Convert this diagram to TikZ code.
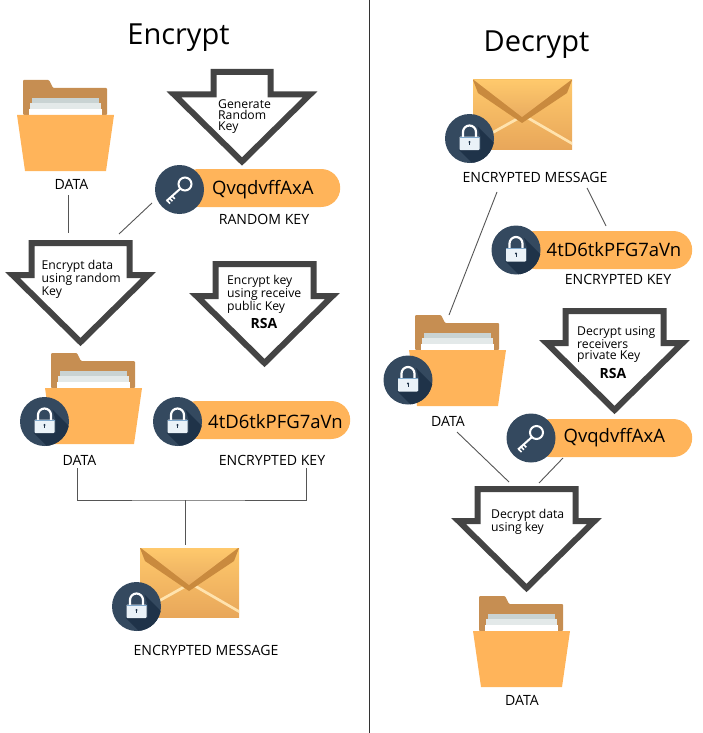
\documentclass[tikz,border=0pt]{standalone}
\usepackage{fontspec}
\setmainfont{Open Sans}
\usepackage{xcolor}
\usetikzlibrary{positioning}
\definecolor{BadgeBlue}{HTML}{34495F}
\definecolor{BadgeShade}{HTML}{1F3349}
\definecolor{FolderFront}{HTML}{FFB45A}
\definecolor{FolderBack}{HTML}{C68E52}
\definecolor{PaperGrey}{HTML}{C9D3D3}
\definecolor{PaperLight}{HTML}{E3E9E9}
\definecolor{ArrowGrey}{HTML}{444444}
\definecolor{LineGrey}{HTML}{555555}
\definecolor{EnvTop}{HTML}{FFC96C}
\definecolor{EnvBottom}{HTML}{E8A75A}
\definecolor{EnvFlap}{HTML}{E9AC60}
\definecolor{EnvLight}{HTML}{FFE3AE}
\definecolor{EnvFold}{HTML}{C98A3E}
\definecolor{LockBody}{HTML}{EAF2F8}
\definecolor{LockBand}{HTML}{7FA8CC}

\tikzset{
  pics/blockarrow/.style args={#1,#2}{code={
    \draw[draw=ArrowGrey, line width=6pt, miter limit=10, fill=white]
      (-#1,3) -- (#1,3) -- (#1,#2) -- (68,#2) -- (0,#2+67) -- (-68,#2) -- (-#1,#2) -- cycle;
  }},
  pics/foldericon/.style={code={
    \fill[FolderBack] (6,0) -- (6,-34) [rounded corners=1pt] -- (6,-35) -- (32,-35) -- (36,-27) -- (90,-27) -- (90,0) -- cycle;
    \fill[PaperGrey] (15,-17) rectangle (82,-8);
    \fill[PaperLight] (13,-12) rectangle (84,-4);
    \fill[white] (12,-6) rectangle (85,1);
    \fill[FolderFront] (0,0) -- (97,0) -- (89,56) -- (8,56) -- cycle;
  }},
  pics/envelopeicon/.style={code={
    \shade[top color=EnvTop, bottom color=EnvBottom] (0,0) rectangle (99,69);
    \fill[EnvLight] (0,62) -- (43,38) -- (45,40) -- (0,65) -- cycle;
    \fill[EnvLight] (99,62) -- (56,37) -- (54,39) -- (99,65) -- cycle;
    \fill[EnvFold] (0,0) -- (5,13) -- (49,43) -- (94,13) -- (99,0) -- cycle;
    \shade[top color=EnvTop, bottom color=EnvFlap] (1,0) -- (49,37) -- (98,0) -- cycle;
  }},
  pics/lockicon/.style={code={
    \clip (0,0) circle (24.5);
    \fill[BadgeShade] (8,-12) -- (11,-2) -- (11,11) -- (-11,11) -- (10,32) -- (40,32) -- (40,20) -- cycle;
    \draw[white, line width=2.2pt] (-6.5,-1) -- (-6.5,-6.5) arc[start angle=180, end angle=360, radius=6.5] -- (6.5,-1);
    \fill[LockBody, rounded corners=0.8pt] (-10,-2) rectangle (10,11.5);
    \fill[LockBand] (-10,-2) rectangle (10,-0.8);
    \fill[BadgeShade] (0,3.5) circle (1.2);
    \draw[BadgeShade, line width=0.8pt] (0,3.5) -- (0,6.5);
  }},
  pics/keyicon/.style={code={
    \draw[white, line width=2pt] (5.5,-5.5) circle (6.5);
    \draw[white, line width=2pt] (1,-1) -- (-13,11.5);
    \draw[white, line width=1.6pt] (-12.5,11) -- (-9.5,14) (-10,8.7) -- (-7,11.7) (-7.5,6.5) -- (-4.7,9.3);
  }}
}

\begin{document}
\begin{tikzpicture}[
    x=1pt, y=-1pt,
    badge/.style={circle, fill=BadgeBlue, minimum size=49pt, inner sep=0pt, outer sep=0pt},
    pill/.style={fill=FolderFront, rounded corners=19pt, minimum height=38pt, inner sep=0pt, anchor=west},
    keytext/.style={inner sep=0pt, font=\fontsize{18.5}{20}\selectfont},
    lbl/.style={inner sep=0pt, text height=10pt, text depth=0pt, font=\fontsize{14.1}{15}\selectfont},
    title/.style={inner sep=0pt, font=\fontsize{29}{31}\selectfont},
    arrowtext/.style={inner sep=0pt, anchor=north west, align=left, font=\fontsize{12.2}{11}\selectfont},
    rsa/.style={inner sep=0pt, font=\fontsize{14}{15}\selectfont\bfseries},
    conn/.style={draw=LineGrey, line width=0.9pt}
  ]
    \useasboundingbox (0,0) rectangle (702,733);
    \coordinate (divTop) at (369.5,0);
    \coordinate (divBot) at (369.5,733);
    \draw[draw=black!80, line width=1pt] (divTop) -- (divBot);

    \node[title] (encTitle) at (178.5,38) {Encrypt};
    \node[title] (decTitle) at (536.5,45) {Decrypt};

    % encrypt side
    \pic at (17,115) {foldericon};
    \node[lbl] (dataA) at (71.5,184) {DATA};
    \pic at (242,69) {blockarrow={28.5,25.5}};
    \node[arrowtext] (txtGen) at (218,99.5) {Generate\\Random\\Key};
    \node[pill, minimum width=160.5pt] (pillA) at (179.5,188) {};
    \node[badge] (keyA) at (179.5,189.5) {};
    \pic at (keyA) {keyicon};
    \node[keytext, right=8pt of keyA] (codeA) {QvqdvffAxA};
    \node[lbl] (randLbl) at (264,219) {RANDOM KEY};

    \pic at (80.5,240) {blockarrow={49,35}};
    \node[arrowtext] (txtEncData) at (41.5,260) {Encrypt data\\using random\\Key};
    \pic at (264.5,261) {blockarrow={49,35}};
    \node[arrowtext] (txtEncKey) at (227,275) {Encrypt key\\using receive\\public Key};
    \node[rsa] (rsaA) at (264,323) {RSA};

    \pic at (45,388) {foldericon};
    \node[badge] (lockA) at (44.5,421.5) {};
    \pic at (lockA) {lockicon};
    \node[lbl] (dataB) at (79.5,460) {DATA};
    \node[pill, minimum width=172.5pt] (pillB) at (177.5,420) {};
    \node[badge] (lockB) at (177.5,421.5) {};
    \pic at (lockB) {lockicon};
    \node[keytext, right=6pt of lockB] (codeB) {4tD6tkPFG7aVn};
    \node[lbl] (encKeyLbl) at (272,460) {ENCRYPTED KEY};

    \pic at (140,548) {envelopeicon};
    \node[badge] (lockC) at (136.5,606.5) {};
    \pic at (lockC) {lockicon};
    \node[lbl] (msgA) at (206,650) {ENCRYPTED MESSAGE};

    \coordinate (a1) at (68,195);
    \coordinate (a2) at (68,233);
    \coordinate (b1) at (152,203);
    \coordinate (b2) at (119,234);
    \coordinate (mergeL) at (77.5,468);
    \coordinate (mergeR) at (306,468);
    \coordinate (mergeM) at (185,500);
    \coordinate (mergeE) at (185,545);
    \draw[conn] (a1) -- (a2);
    \draw[conn] (b1) -- (b2);
    \draw[conn] (mergeL) |- (mergeM) -| (mergeR);
    \draw[conn] (mergeM) -- (mergeE);

    % decrypt side
    \pic at (473,80) {envelopeicon};
    \node[badge] (lockD) at (469.5,138.5) {};
    \pic at (lockD) {lockicon};
    \node[lbl] (msgB) at (535,177) {ENCRYPTED MESSAGE};
    \node[pill, minimum width=176pt] (pillC) at (516,250) {};
    \node[badge] (lockE) at (516,250) {};
    \pic at (lockE) {lockicon};
    \node[keytext, right=6pt of lockE] (codeC) {4tD6tkPFG7aVn};
    \node[lbl] (encKeyR) at (618,279) {ENCRYPTED KEY};

    \pic at (409,350) {foldericon};
    \node[badge] (lockF) at (408,380) {};
    \pic at (lockF) {lockicon};
    \node[lbl] (dataC) at (448,421) {DATA};
    \pic at (614.5,308) {blockarrow={49,35}};
    \node[arrowtext] (txtDecKey) at (577,326) {Decrypt using\\receivers\\private Key};
    \node[rsa] (rsaB) at (613,373) {RSA};
    \node[pill, minimum width=161pt] (pillD) at (531,438) {};
    \node[badge] (keyB) at (531,438) {};
    \pic at (keyB) {keyicon};
    \node[keytext, right=8pt of keyB] (codeD) {QvqdvffAxA};

    \pic at (526.5,486) {blockarrow={49,35}};
    \node[arrowtext] (txtDecData) at (491,509) {Decrypt data\\using key};
    \pic at (473,631) {foldericon};
    \node[lbl] (dataD) at (522,700) {DATA};

    \coordinate (c1) at (497,192);
    \coordinate (c2) at (449,315);
    \coordinate (d1) at (587,188);
    \coordinate (d2) at (606,226);
    \coordinate (e1) at (457,432);
    \coordinate (e2) at (509,482);
    \coordinate (f1) at (563,458);
    \coordinate (f2) at (539,483);
    \draw[conn] (c1) -- (c2);
    \draw[conn] (d1) -- (d2);
    \draw[conn] (e1) -- (e2);
    \draw[conn] (f1) -- (f2);
\end{tikzpicture}
\end{document}
